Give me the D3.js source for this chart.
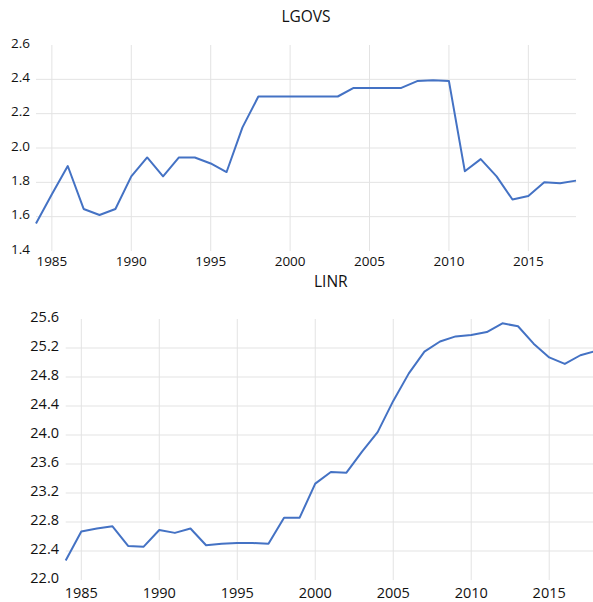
<!DOCTYPE html>
<html>
<head>
<meta charset="utf-8">
<script src="https://cdn.jsdelivr.net/npm/d3@7"></script>
<style>
  body { margin: 0; background: #fff; }
  svg { display: block; font-family: "Open Sans", "Noto Sans", sans-serif; }
</style>
</head>
<body>
<div id="chart"></div>
<script>
// years shared by both panels
const years = d3.range(1984, 2019);

// LGOVS values
const lgovs = [1.56, 1.73, 1.895, 1.645, 1.61, 1.645, 1.835, 1.945, 1.835, 1.945,
  1.945, 1.91, 1.86, 2.12, 2.30, 2.30, 2.30, 2.30, 2.30, 2.30,
  2.35, 2.35, 2.35, 2.35, 2.39, 2.395, 2.39, 1.865, 1.935, 1.835,
  1.70, 1.72, 1.80, 1.795, 1.81];

// LINR values
const linr = [22.27, 22.67, 22.71, 22.74, 22.47, 22.46, 22.69, 22.65, 22.71, 22.48,
  22.50, 22.51, 22.51, 22.50, 22.86, 22.86, 23.33, 23.49, 23.48, 23.77,
  24.04, 24.47, 24.85, 25.15, 25.29, 25.36, 25.38, 25.42, 25.54, 25.50,
  25.26, 25.07, 24.98, 25.10, 25.16];

const xTicks = [1985, 1990, 1995, 2000, 2005, 2010, 2015];
const lgovsTicks = [1.4, 1.6, 1.8, 2.0, 2.2, 2.4, 2.6];
const linrTicks = [22.0, 22.4, 22.8, 23.2, 23.6, 24.0, 24.4, 24.8, 25.2, 25.6];

const svg = d3.select('#chart').append('svg')
  .attr('width', 593)
  .attr('height', 602);

function drawPanel(cfg) {
  const x = d3.scaleLinear().domain([1984, 2018]).range([cfg.left, cfg.right]);
  const y = d3.scaleLinear().domain(cfg.yDomain).range([cfg.bottom, cfg.top]);
  const g = svg.append('g');

  // vertical grid
  g.append('g').selectAll('line')
    .data(xTicks).enter().append('line')
    .attr('x1', d => x(d)).attr('x2', d => x(d))
    .attr('y1', cfg.top).attr('y2', cfg.bottom)
    .attr('stroke', '#e3e3e3').attr('stroke-width', 1);

  // horizontal grid (interior ticks only)
  g.append('g').selectAll('line')
    .data(cfg.yTicks.slice(1, -1)).enter().append('line')
    .attr('x1', cfg.left).attr('x2', cfg.right)
    .attr('y1', d => y(d)).attr('y2', d => y(d))
    .attr('stroke', '#e3e3e3').attr('stroke-width', 1);

  // y labels
  g.append('g').selectAll('text')
    .data(cfg.yTicks).enter().append('text')
    .attr('x', cfg.labelX)
    .attr('y', d => y(d) - 2)
    .attr('dy', '0.35em')
    .attr('text-anchor', 'end')
    .style('font-size', cfg.fontSize + 'px')
    .style('fill', '#111')
    .text(d => d.toFixed(1));

  // x labels
  g.append('g').selectAll('text')
    .data(xTicks).enter().append('text')
    .attr('x', d => x(d))
    .attr('y', cfg.xLabelY)
    .attr('dy', '0.35em')
    .attr('text-anchor', 'middle')
    .style('font-size', cfg.fontSize + 'px')
    .style('fill', '#111')
    .text(d => d);

  // title
  g.append('text')
    .attr('x', (cfg.left + cfg.right) / 2)
    .attr('y', cfg.titleY)
    .attr('dy', '0.35em')
    .attr('text-anchor', 'middle')
    .style('font-size', '15.5px')
    .style('fill', '#111')
    .text(cfg.title);

  const line = d3.line()
    .x((d, i) => x(years[i]))
    .y(d => y(d));

  g.append('path')
    .datum(cfg.values)
    .attr('d', line)
    .attr('fill', 'none')
    .attr('stroke', '#4472c4')
    .attr('stroke-width', 2)
    .attr('stroke-linejoin', 'round');
}

drawPanel({
  title: 'LGOVS', values: lgovs, yDomain: [1.4, 2.6], yTicks: lgovsTicks,
  left: 36, right: 576, top: 45, bottom: 251,
  labelX: 30, xLabelY: 261, titleY: 17, fontSize: 13.5
});

drawPanel({
  title: 'LINR', values: linr, yDomain: [22.0, 25.6], yTicks: linrTicks,
  left: 65.7, right: 596, top: 319, bottom: 580,
  labelX: 59, xLabelY: 592.5, titleY: 282, fontSize: 14.5
});
</script>
</body>
</html>
